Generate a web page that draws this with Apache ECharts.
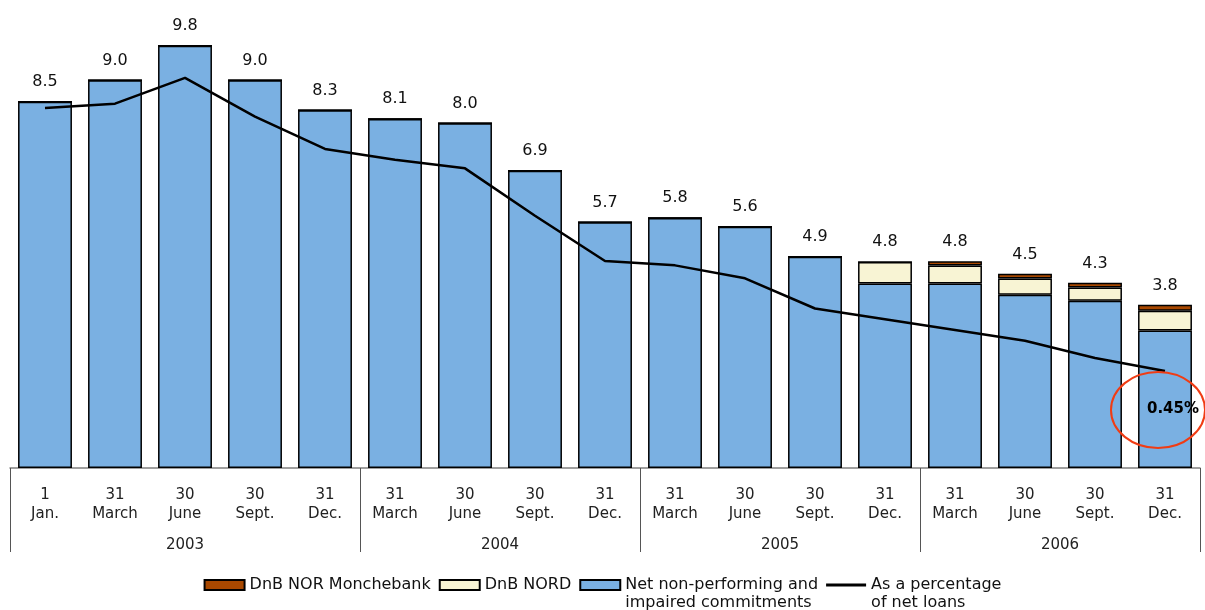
<!DOCTYPE html>
<html>
<head>
<meta charset="utf-8">
<script src="https://cdn.jsdelivr.net/npm/echarts@6/dist/echarts.min.js"></script>
<style>
  html, body { margin: 0; padding: 0; background: #fff; }
  #chart1 { width: 1205px; height: 610px; }
</style>
</head>
<body>
<div id="chart1"></div>
<script>
const months = [
  "1\nJan.", "31\nMarch", "30\nJune", "30\nSept.", "31\nDec.",
  "31\nMarch", "30\nJune", "30\nSept.", "31\nDec.",
  "31\nMarch", "30\nJune", "30\nSept.", "31\nDec.",
  "31\nMarch", "30\nJune", "30\nSept.", "31\nDec.",
];
const years = ["2003", "2004", "2005", "2006"];
const yearSizes = [5, 4, 4, 4];

// NOK billion
const netNonPerforming = [8.5, 9.0, 9.8, 9.0, 8.3, 8.1, 8.0, 6.9, 5.7, 5.8, 5.6, 4.9, 4.28, 4.28, 4.02, 3.88, 3.19];
const dnbNord = [0, 0, 0, 0, 0, 0, 0, 0, 0, 0, 0, 0, 0.5, 0.42, 0.38, 0.31, 0.46];
const monchebank = [0, 0, 0, 0, 0, 0, 0, 0, 0, 0, 0, 0, 0, 0.1, 0.11, 0.11, 0.14];
const totals = [8.5, 9.0, 9.8, 9.0, 8.3, 8.1, 8.0, 6.9, 5.7, 5.8, 5.6, 4.9, 4.8, 4.8, 4.5, 4.3, 3.8];
// per cent of net loans
const pctOfLoans = [1.67, 1.69, 1.81, 1.63, 1.48, 1.43, 1.39, 1.17, 0.96, 0.94, 0.88, 0.74, 0.69, 0.64, 0.59, 0.51, 0.45];

const names = [
  "DnB NOR Monchebank",
  "DnB NORD",
  "Net non-performing and\nimpaired commitments",
  "As a percentage\nof net loans",
];

// year group boundaries / centres on a 0..17 scale
const yearBounds = [0];
const yearCenters = [];
yearSizes.forEach((n) => {
  const start = yearBounds[yearBounds.length - 1];
  yearCenters.push(start + n / 2);
  yearBounds.push(start + n);
});

const font = "DejaVu Sans, Verdana, sans-serif";
const barBorder = { borderColor: "#000", borderWidth: 1.5 };

const option = {
  animation: false,
  textStyle: { fontFamily: font },
  grid: { left: 10, right: 5, top: 0, bottom: 142 },
  legend: {
    top: 558,
    left: "center",
    padding: 0,
    icon: "rect",
    itemWidth: 40,
    itemHeight: 10,
    itemGap: 8,
    textStyle: { fontSize: 16, color: "#111", lineHeight: 18, fontFamily: font },
    // two-line names: pad with an empty line so the first line sits next to the icon
    formatter: (name) => (name.indexOf("\n") >= 0 ? "\n" + name : name),
    data: [
      names[0],
      names[1],
      names[2],
      {
        name: names[3],
        icon: "path://M0,0M40,10M0,3.6H40V6.4H0Z",
        itemStyle: { color: "#000", borderWidth: 0 },
      },
    ],
  },
  xAxis: [
    {
      type: "category",
      data: months,
      axisLine: { lineStyle: { color: "#808080", width: 1.5 } },
      axisTick: { show: false },
      axisLabel: { fontSize: 15, color: "#222", lineHeight: 19, margin: 18, interval: 0, fontFamily: font },
    },
    {
      type: "value",
      min: 0,
      max: months.length,
      position: "bottom",
      axisLine: { show: false },
      splitLine: { show: false },
      axisTick: {
        show: true,
        customValues: yearBounds,
        length: 84,
        lineStyle: { color: "#555", width: 1 },
      },
      axisLabel: {
        customValues: yearCenters,
        fontSize: 15,
        color: "#222",
        margin: 70,
        fontFamily: font,
        formatter: (v) => years[yearCenters.indexOf(v)],
      },
    },
  ],
  yAxis: [
    { type: "value", min: 0, max: 10.86, show: false },
    { type: "value", min: 0, max: 2.171, show: false },
  ],
  series: [
    {
      name: names[2],
      type: "bar",
      stack: "npl",
      barCategoryGap: "23%",
      itemStyle: Object.assign({ color: "#7AB0E2" }, barBorder),
      data: netNonPerforming,
    },
    {
      name: names[1],
      type: "bar",
      stack: "npl",
      itemStyle: Object.assign({ color: "#F8F4D4" }, barBorder),
      data: dnbNord,
    },
    {
      name: names[0],
      type: "bar",
      stack: "npl",
      itemStyle: Object.assign({ color: "#A84800" }, barBorder),
      label: {
        show: true,
        position: "top",
        distance: 11,
        fontSize: 16,
        color: "#111",
        fontFamily: font,
        formatter: (p) => totals[p.dataIndex].toFixed(1),
      },
      data: monchebank,
    },
    {
      name: names[3],
      type: "line",
      yAxisIndex: 1,
      symbol: "none",
      z: 5,
      lineStyle: { color: "#000", width: 2.5 },
      itemStyle: { color: "#000" },
      data: pctOfLoans,
    },
  ],
};

const chart = echarts.init(document.getElementById("chart1"));
chart.setOption(option);

// highlight the last reading
const last = pctOfLoans.length - 1;
const pt = chart.convertToPixel({ seriesIndex: 3 }, [last, pctOfLoans[last]]);
chart.setOption({
  graphic: [
    {
      type: "ellipse",
      shape: { cx: pt[0] - 7, cy: pt[1] + 39, rx: 47, ry: 38 },
      style: { fill: "none", stroke: "#F03C14", lineWidth: 2 },
      z: 10,
    },
    {
      type: "text",
      x: pt[0] + 8,
      y: pt[1] + 38,
      style: {
        text: pctOfLoans[last].toFixed(2) + "%",
        font: "bold 15px " + font,
        fill: "#000",
        align: "center",
        verticalAlign: "middle",
      },
      z: 11,
    },
  ],
});
</script>
</body>
</html>
